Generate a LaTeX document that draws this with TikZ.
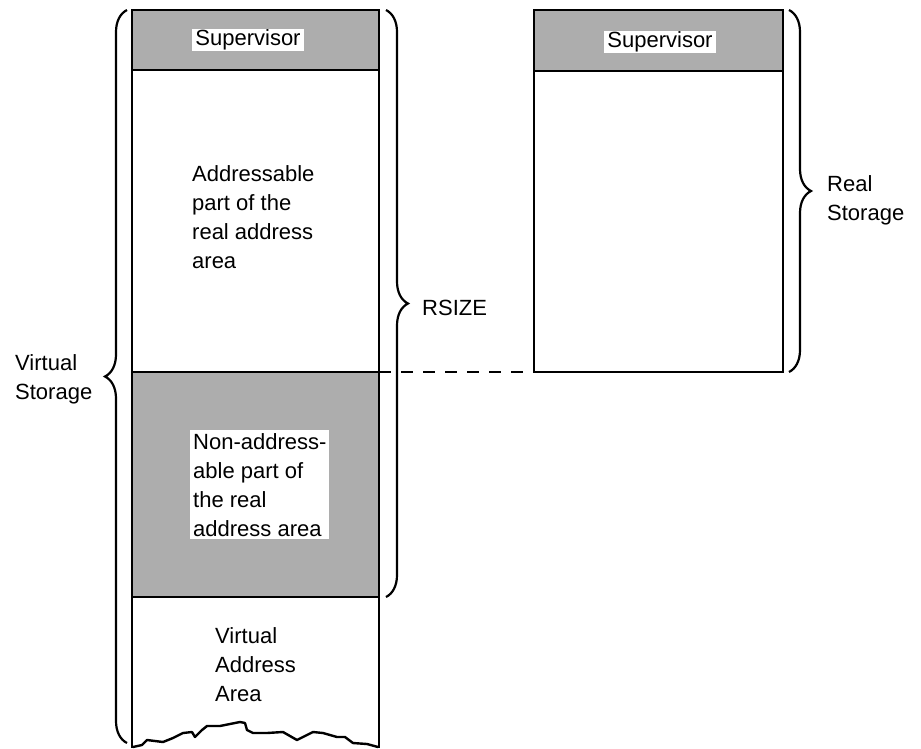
\documentclass[tikz,border=0pt]{standalone}
\usepackage{fontspec}
\setmainfont{Liberation Sans}
\usetikzlibrary{decorations.pathreplacing}
\begin{document}
\begin{tikzpicture}[x=1pt,y=-1pt,
  wall/.style={line width=2.8pt, line join=miter},
  halftone/.style={fill=black!32},
  label/.style={font=\fontsize{22}{29}\selectfont, inner sep=0pt, align=left},
  tag/.style={font=\fontsize{22}{29}\selectfont, fill=white, inner xsep=3pt, inner ysep=1pt},
  bracket/.style={decorate, decoration={brace, amplitude=22pt}, line width=2.2pt},
  link/.style={line width=2.4pt, dash pattern=on 12pt off 10pt},
  tear/.style={line width=2.4pt, line join=round, line cap=round}]
\useasboundingbox (0,0) rectangle (921,748);

% ---- virtual storage column ----
\coordinate (vtop-l) at (132,10);   \coordinate (vtop-r) at (379,10);
\coordinate (vsup-l) at (132,70);   \coordinate (vsup-r) at (379,70);
\coordinate (vreal-l) at (132,372); \coordinate (vreal-r) at (379,372);
\coordinate (vnon-l) at (132,597);  \coordinate (vnon-r) at (379,597);
\coordinate (vbot-l) at (132,748);  \coordinate (vbot-r) at (379,748);

\fill[halftone] (vtop-l) rectangle (vsup-r);
\fill[halftone] (vreal-l) rectangle (vnon-r);
\draw[wall] (vbot-l) -- (vtop-l) -- (vtop-r) -- (vbot-r);
\draw[wall] (vsup-l) -- (vsup-r);
\draw[wall] (vreal-l) -- (vreal-r);
\draw[wall] (vnon-l) -- (vnon-r);

% torn lower edge
\draw[tear] (133,747) -- (142,745) -- (147,740) -- (163,742) -- (173,738)
  -- (183,733) -- (192,732) -- (195,737) -- (202,730) -- (207,726)
  -- (220,726) -- (240,722) -- (245,723) -- (247,730) -- (253,733)
  -- (267,733) -- (283,732) -- (297,740) -- (313,732) -- (323,733)
  -- (337,737) -- (345,737) -- (353,743) -- (367,744) -- (378,747);

% ---- real storage column ----
\coordinate (rtop-l) at (534,10);   \coordinate (rtop-r) at (783,10);
\coordinate (rsup-l) at (534,71);   \coordinate (rsup-r) at (783,71);
\coordinate (rbot-l) at (534,372);  \coordinate (rbot-r) at (783,372);

\fill[halftone] (rtop-l) rectangle (rsup-r);
\draw[wall] (rtop-l) rectangle (rbot-r);
\draw[wall] (rsup-l) -- (rsup-r);

% ---- texts ----
\node[tag] (vsup) at (248,40) {Supervisor};
\node[tag] (rsup) at (660,42) {Supervisor};
\node[label, anchor=north west] (addr) at (192,165)
  {Addressable\\part of the\\real address\\area};
\node[label, tag, align=left, inner ysep=3pt, anchor=north west] (nonaddr) at (190,430)
  {Non-address-\\able part of\\the real\\address area};
\node[label, anchor=north west] (varea) at (215,627) {Virtual\\Address\\Area};

% ---- braces and their labels ----
\draw[bracket] (127,743) -- (127,10);
\draw[bracket] (386,10) -- (386,597);
\draw[bracket] (789,10) -- (789,372);

\node[label, anchor=north west] (vstor) at (15,354) {Virtual\\Storage};
\node[label, anchor=west] (rsize) at (422,308) {RSIZE};
\node[label, anchor=north west] (rstor) at (827,175) {Real\\Storage};

% ---- boundary of the real address area ----
\draw[link] (vreal-r) -- (rbot-l);
\end{tikzpicture}
\end{document}
